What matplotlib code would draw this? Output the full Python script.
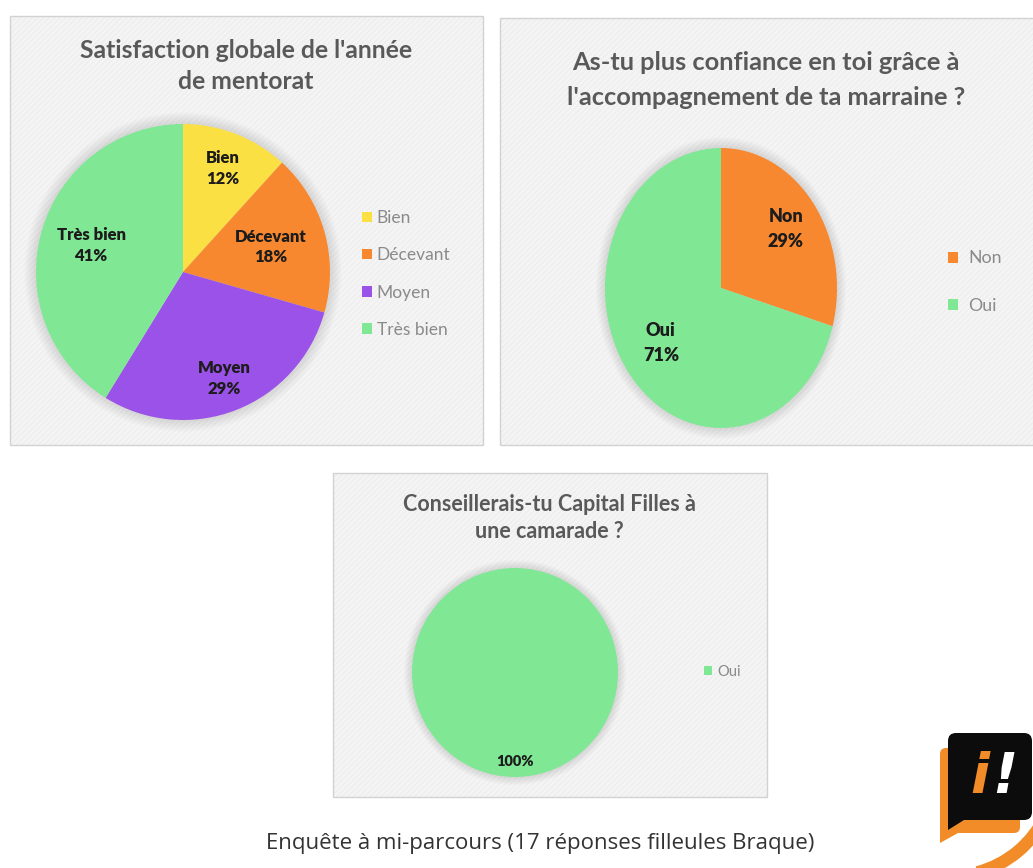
import math
import matplotlib
matplotlib.use("Agg")
import matplotlib.pyplot as plt
from matplotlib.patches import Rectangle, FancyBboxPatch, Ellipse, Polygon, Arc

# ---------------- data ----------------
sat_labels = ["Bien", "Décevant", "Moyen", "Très bien"]
sat_counts = [2, 3, 5, 7]
sat_title = "Satisfaction globale de l'année\nde mentorat"

conf_labels = ["Non", "Oui"]
conf_counts = [5, 12]
conf_title = "As-tu plus confiance en toi grâce à\nl'accompagnement de ta marraine ?"

reco_labels = ["Oui"]
reco_counts = [17]
reco_title = "Conseillerais-tu Capital Filles à\nune camarade ?"

footer = "Enquête à mi-parcours (17 réponses filleules Braque)"

# ---------------- styles ----------------
C_YELLOW = "#FBE044"
C_ORANGE = "#F7882F"
C_PURPLE = "#9A52E8"
C_GREEN = "#80E795"
sat_colors = [C_YELLOW, C_ORANGE, C_PURPLE, C_GREEN]
conf_colors = [C_ORANGE, C_GREEN]
reco_colors = [C_GREEN]
# radial placement of the in-slice labels (fraction of radius), best-fit style
sat_label_dist = [0.75, 0.62, 0.77, 0.65]
conf_label_dist = [0.70, 0.65]
reco_label_dist = [0.85]

TITLE_C = "#595959"
LEG_C = "#8a8a8a"
LOGO_OR = "#F28C28"
FONT = ["Lato", "DejaVu Sans"]
plt.rcParams["font.family"] = FONT
plt.rcParams["hatch.linewidth"] = 0.6

W, H = 1033, 868
fig = plt.figure(figsize=(W / 100, H / 100), dpi=100)
fig.patch.set_facecolor("white")


def fx(x):
    return x / W


def fy(y):
    return 1 - y / H


def panel(x0, y0, x1, y1):
    fig.patches.append(Rectangle((fx(x0), fy(y1)), fx(x1 - x0), (y1 - y0) / H,
                                 transform=fig.transFigure, facecolor="#f4f4f4",
                                 edgecolor="none", zorder=0))
    fig.patches.append(Rectangle((fx(x0), fy(y1)), fx(x1 - x0), (y1 - y0) / H,
                                 transform=fig.transFigure, facecolor="none",
                                 edgecolor="#ebebeb", hatch="//////", lw=0, zorder=0.5))
    fig.patches.append(Rectangle((fx(x0), fy(y1)), fx(x1 - x0), (y1 - y0) / H,
                                 transform=fig.transFigure, facecolor="none",
                                 edgecolor="#d2d2d2", lw=1.0, zorder=1))


def pie_axes(x0, y0, x1, y1):
    ax = fig.add_axes([fx(x0), fy(y1), fx(x1 - x0), (y1 - y0) / H])
    ax.set_zorder(2)
    ax.patch.set_alpha(0)
    return ax


def finish(ax, wedges, texts, dists):
    ax.set_xlim(-1, 1)
    ax.set_ylim(-1, 1)
    ax.set_aspect("auto")
    ax.axis("off")
    for w, t, d in zip(wedges, texts, dists):
        a = math.radians((w.theta1 + w.theta2) / 2)
        t.set_position((d * math.cos(a), d * math.sin(a)))
    # soft shadow
    for k in range(7):
        r = 1.0 + 0.011 * (k + 1)
        ax.add_patch(Ellipse((0, 0), 2 * r, 2 * r, facecolor="#7a7a7a",
                             alpha=0.03, edgecolor="none", zorder=0, clip_on=False))


def make_fmt(labels, counts, show_label=True):
    total = sum(counts)
    it = iter(range(len(counts)))

    def f(p):
        i = next(it)
        pct = f"{round(counts[i] / total * 100)}%"
        return f"{labels[i]}\n{pct}" if show_label else pct
    return f


# ---------- panel 1 ----------
panel(10, 16, 483, 445)
ax1 = pie_axes(36, 124, 330, 420)
w1, _, t1 = ax1.pie(sat_counts, colors=sat_colors, startangle=90, counterclock=False,
                    autopct=make_fmt(sat_labels, sat_counts), pctdistance=0.7,
                    wedgeprops=dict(linewidth=0),
                    textprops=dict(fontsize=12, fontweight="heavy", color="#1c1c1c",
                                   linespacing=1.35))
finish(ax1, w1, t1, sat_label_dist)
fig.text(fx(246), fy(66), sat_title, ha="center", va="center", fontsize=17.8,
         fontweight="bold", color=TITLE_C, linespacing=1.42)
fig.legend(w1, sat_labels, loc="center left", bbox_to_anchor=(fx(362), fy(274)),
           frameon=False, fontsize=12.5, labelcolor=LEG_C, handlelength=0.55,
           handleheight=0.55, handletextpad=0.3, labelspacing=1.22, borderpad=0,
           borderaxespad=0)

# ---------- panel 2 ----------
panel(500, 18, 1040, 445)
ax2 = pie_axes(605, 148, 837, 428)
w2, _, t2 = ax2.pie(conf_counts, colors=conf_colors, startangle=90, counterclock=False,
                    autopct=make_fmt(conf_labels, conf_counts), pctdistance=0.68,
                    wedgeprops=dict(linewidth=0),
                    textprops=dict(fontsize=13, fontweight="heavy", color="#1c1c1c",
                                   linespacing=1.55))
finish(ax2, w2, t2, conf_label_dist)
fig.text(fx(766), fy(80), conf_title, ha="center", va="center", fontsize=18.3,
         fontweight="bold", color=TITLE_C, linespacing=1.6)
fig.legend(w2, conf_labels, loc="center left", bbox_to_anchor=(fx(948), fy(282)),
           frameon=False, fontsize=12.8, labelcolor=LEG_C, handlelength=0.55,
           handleheight=0.55, handletextpad=0.6, labelspacing=1.75, borderpad=0,
           borderaxespad=0)

# ---------- panel 3 ----------
panel(333, 473, 767, 797)
ax3 = pie_axes(412, 568, 618, 777)
w3, _, t3 = ax3.pie(reco_counts, colors=reco_colors, startangle=90, counterclock=False,
                    autopct=make_fmt(reco_labels, reco_counts, show_label=False),
                    pctdistance=0.85, wedgeprops=dict(linewidth=0),
                    textprops=dict(fontsize=10.5, fontweight="heavy", color="#1c1c1c"))
finish(ax3, w3, t3, reco_label_dist)
fig.text(fx(549), fy(518), reco_title, ha="center", va="center", fontsize=15.5,
         fontweight="bold", color=TITLE_C, linespacing=1.35)
fig.legend(w3, reco_labels, loc="center left", bbox_to_anchor=(fx(704), fy(672)),
           frameon=False, fontsize=10.5, labelcolor=LEG_C, handlelength=0.55,
           handleheight=0.55, handletextpad=0.4, borderpad=0, borderaxespad=0)

# ---------- footer ----------
fig.text(fx(540), fy(844), footer, ha="center", va="center", fontsize=16,
         color="#333333", family=["Open Sans", "DejaVu Sans"])

# ---------- logo (pixel-coordinate overlay) ----------
ov = fig.add_axes([0, 0, 1, 1])
ov.set_xlim(0, W)
ov.set_ylim(H, 0)
ov.axis("off")
ov.patch.set_alpha(0)
ov.set_zorder(3)
ov.add_patch(Arc((950, 770), 212, 212, theta1=25, theta2=75, color=LOGO_OR, lw=9))
ov.add_patch(FancyBboxPatch((940, 748), 80, 85, boxstyle="round,pad=0,rounding_size=6",
                            facecolor=LOGO_OR, edgecolor="none"))
ov.add_patch(Polygon([(940, 815), (958, 833), (940, 843)], closed=True,
                     facecolor=LOGO_OR, edgecolor="none"))
ov.add_patch(FancyBboxPatch((948, 733), 84, 87, boxstyle="round,pad=0,rounding_size=8",
                            facecolor="#0c0c0c", edgecolor="none"))
ov.add_patch(Polygon([(948, 810), (964, 820), (948, 830)], closed=True,
                     facecolor="#0c0c0c", edgecolor="none"))
ov.text(980, 778, "i", ha="center", va="center", fontsize=40, fontweight="bold",
        style="italic", color=LOGO_OR, family=["DejaVu Sans"])
ov.text(1005, 777, "!", ha="center", va="center", fontsize=40, fontweight="bold",
        style="italic", color="white", family=["DejaVu Sans"])

fig.savefig("out.png", dpi=100, facecolor="white")
